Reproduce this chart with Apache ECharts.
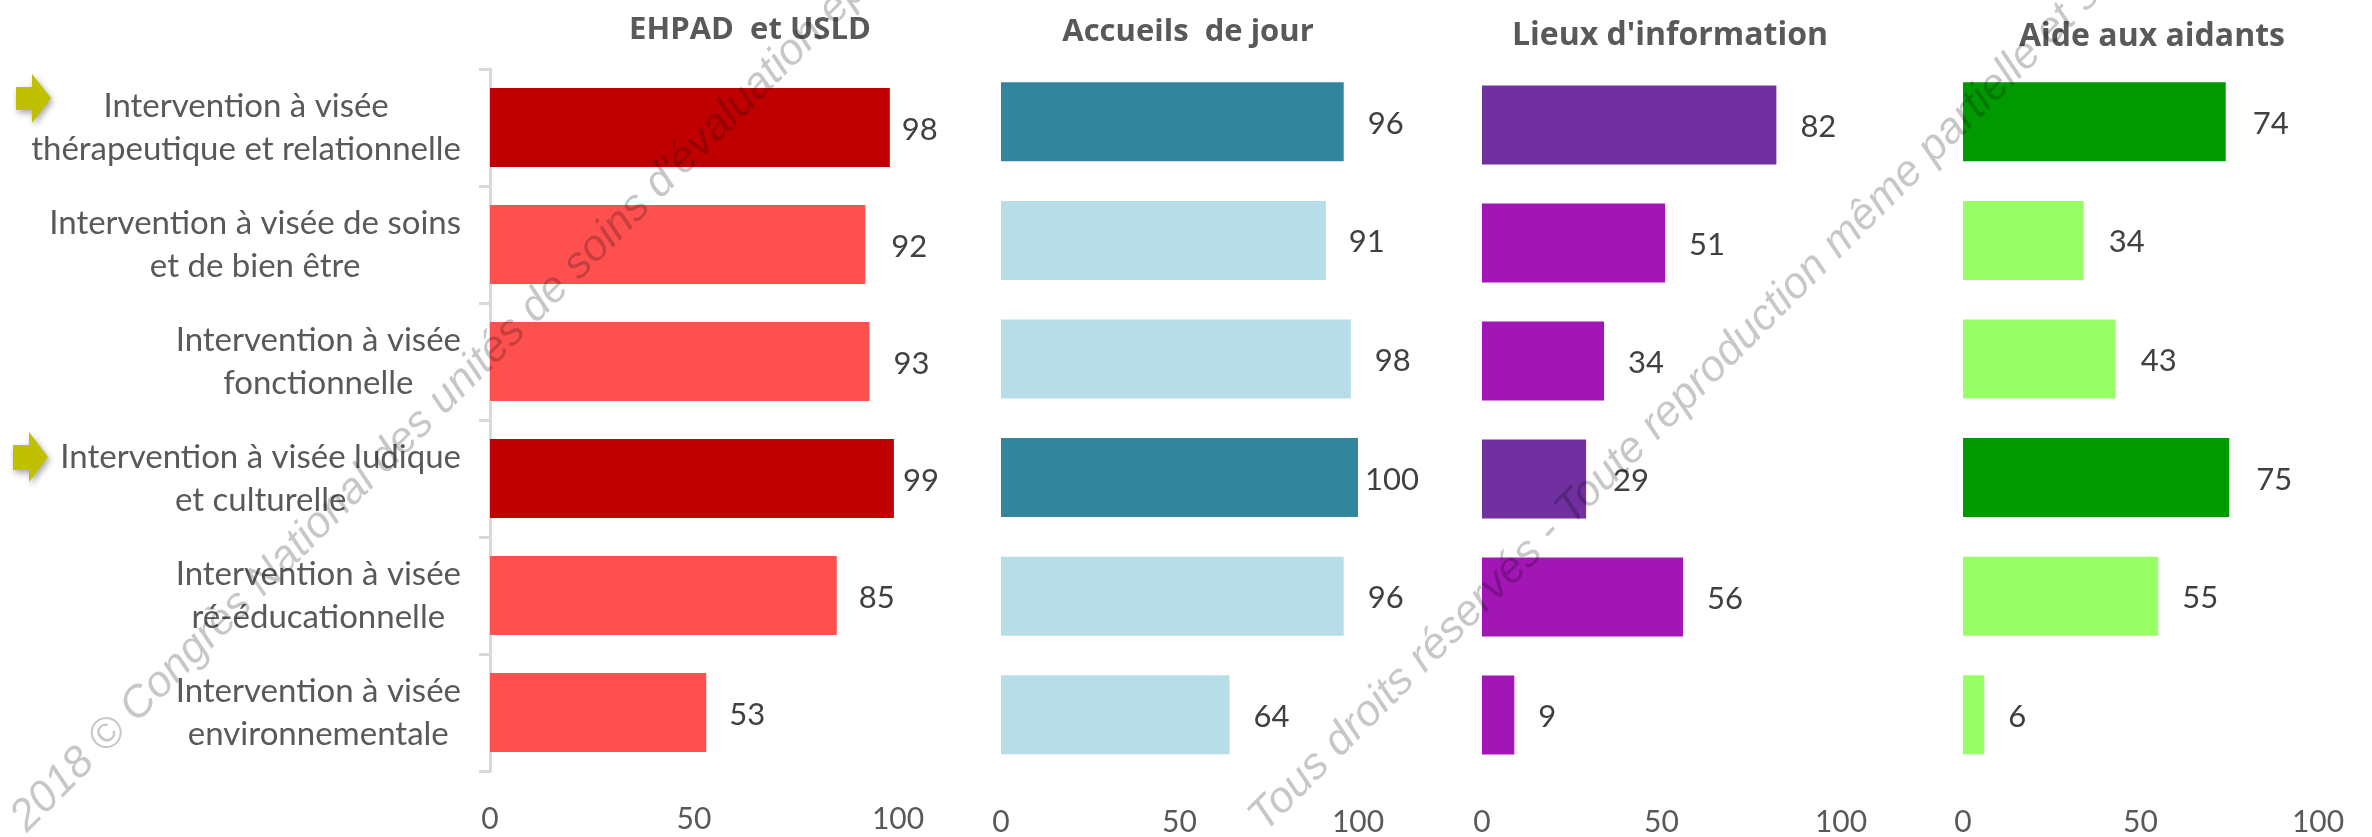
<!DOCTYPE html>
<html><head><meta charset="utf-8">
<style>html,body{margin:0;padding:0;background:#fff}#c{width:2372px;height:837px}</style>
<script src="https://cdn.jsdelivr.net/npm/echarts@6/dist/echarts.min.js"></script>
</head><body><div id="c"></div>
<script>
const categories = [
  "Intervention à visée\nthérapeutique et relationnelle",
  "Intervention à visée de soins\net de bien être",
  "Intervention à visée\nfonctionnelle",
  "Intervention à visée ludique\net culturelle",
  "Intervention à visée\nré-éducationnelle",
  "Intervention à visée\nenvironnementale"
];
const panelTitles = ["EHPAD  et USLD", "Accueils  de jour", "Lieux d'information", "Aide aux aidants"];
const ehpad = [98, 92, 93, 99, 85, 53];
const accueils = [96, 91, 98, 100, 96, 64];
const lieux = [82, 51, 34, 29, 56, 9];
const aide = [74, 34, 43, 75, 55, 6];
const axisTicks = [0, 50, 100];
const highlighted = [0, 3];

const FONT = 'Lato';
const layouts = [
  {left:490,  width:408, top:69,   height:702, tx:745,  ty:10, ts:31, labelMargin:33, dark:'#C00000', light:'#FF5050', values:ehpad,    gaps:[12,26,24,9,22,23]},
  {left:1001, width:357, top:62.5, height:714, tx:1183, ty:12, ts:31, labelMargin:33, dark:'#31859C', light:'#B7DEE8', values:accueils, gaps:[24,23,24,7,24,24]},
  {left:1482, width:359, top:66,   height:710, tx:1665, ty:15, ts:32, labelMargin:33, dark:'#7030A0', light:'#A116B5', values:lieux,    gaps:[24,24,24,27,24,24]},
  {left:1963, width:355, top:62.5, height:714, tx:2147, ty:16, ts:32, labelMargin:33, dark:'#009900', light:'#99FF66', values:aide,     gaps:[27,25,25,27,24,24]}
];

const richLabel = s => s.split('\n').map(l => '{c|' + l + '}').join('\n');

const option = {
  animation:false,
  backgroundColor:'#fff',
  title: layouts.map((p,i)=>({
    text:panelTitles[i], left:p.tx, top:p.ty, textAlign:'center',
    textStyle:{fontFamily:'Open Sans',fontWeight:'bold',fontSize:p.ts,color:'#595959'}
  })),
  grid: layouts.map(p=>({left:p.left,width:p.width,top:p.top,height:p.height,containLabel:false})),
  xAxis: layouts.map((p,i)=>({
    type:'value',gridIndex:i,min:axisTicks[0],max:axisTicks[2],interval:axisTicks[1],
    axisLine:{show:false},axisTick:{show:false},splitLine:{show:false},
    axisLabel:{margin:p.labelMargin,fontFamily:FONT,fontSize:30,color:'#595959',hideOverlap:false,showMinLabel:true,showMaxLabel:true}
  })),
  yAxis: layouts.map((p,i)=>({
    type:'category',gridIndex:i,inverse:true,data:categories,
    axisLine:{show:i===0,lineStyle:{color:'#D9D9D9',width:3}},
    axisTick:{show:i===0,length:11,lineStyle:{color:'#D9D9D9',width:3}},
    axisLabel:{show:i===0,margin:29,align:'right',formatter:richLabel,interval:0,
      rich:{c:{align:'center',fontFamily:FONT,fontSize:33,lineHeight:43,color:'#595959'}}}
  })),
  series: layouts.map((p,i)=>({
    type:'bar',xAxisIndex:i,yAxisIndex:i,barWidth:79,
    data:p.values.map((v,j)=>({
      value:v,
      itemStyle:{color:highlighted.includes(j)?p.dark:p.light},
      label:{distance:p.gaps[j]}
    })),
    label:{show:true,position:'right',fontFamily:FONT,fontSize:31,color:'#404040',offset:[0,2]}
  })),
  graphic:[
    {type:'polygon',z:50,shape:{points:[[16,87],[32,87],[32,74],[51,98],[32,123],[32,110],[16,110]]},
      style:{fill:'#BFC000',shadowBlur:6,shadowColor:'rgba(0,0,0,0.35)',shadowOffsetX:2,shadowOffsetY:3}},
    {type:'polygon',z:50,shape:{points:[[13,445],[29,445],[29,432],[48,457],[29,482],[29,470],[13,470]]},
      style:{fill:'#BFC000',shadowBlur:6,shadowColor:'rgba(0,0,0,0.35)',shadowOffsetX:2,shadowOffsetY:3}},
    {type:'text',z:100,x:34,y:840,rotation:Math.PI/4,
      style:{text:"2018 © Congrès National des unités de soins d'évaluation ép",fill:'rgba(0,0,0,0.22)',
        font:'italic 44px "Liberation Sans"',textAlign:'left',textVerticalAlign:'bottom'}},
    {type:'text',z:100,x:1272,y:840,rotation:Math.PI/4,
      style:{text:"Tous droits réservés - Toute reproduction même partielle et s",fill:'rgba(0,0,0,0.22)',
        font:'italic 44px "Liberation Sans"',textAlign:'left',textVerticalAlign:'bottom'}}
  ]
};
echarts.init(document.getElementById('c'),null,{renderer:'canvas'}).setOption(option);
</script></body></html>
